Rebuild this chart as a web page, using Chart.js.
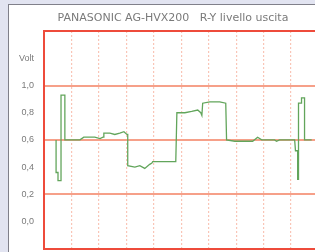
<!DOCTYPE html>
<html>
<head>
<meta charset="utf-8">
<script src="https://cdn.jsdelivr.net/npm/chart.js@4.4.1/dist/chart.umd.min.js"></script>
<style>
  html, body { margin: 0; padding: 0; width: 315px; height: 252px; overflow: hidden; background: #e2e4f1; }
  #panel { position: absolute; left: 8px; top: 4px; width: 400px; height: 300px; background: #fff;
           border-left: 1px solid #80808a; border-top: 1px solid #80808a; }
  #wrap { position: absolute; left: 0; top: 0; width: 346px; height: 264px; }
</style>
</head>
<body>
<div id="panel"></div>
<div id="wrap"><canvas id="c"></canvas></div>
<script>
// titolo e scala
const titleText = "PANASONIC AG-HVX200   R-Y livello uscita";
const yTickValues = [1.2, 1.0, 0.8, 0.6, 0.4, 0.2, 0.0];
const yTickLabels = ["Volt", "1,0", "0,8", "0,6", "0,4", "0,2", "0,0"];
const solidLevels = [1.0, 0.6, 0.2];

// forma d'onda R-Y (x in divisioni, y in volt)
const timeDiv = [0.44, 0.44, 0.51, 0.51, 0.62, 0.62, 0.76, 0.76, 1.31, 1.45, 1.85, 2.04, 2.15, 2.18, 2.40, 2.58, 2.76, 2.91, 3.02, 3.05,
                 3.05, 3.31, 3.49, 3.67, 3.85, 3.93, 3.96, 4.40, 4.76, 4.80, 4.84, 5.13, 5.38, 5.60, 5.71, 5.75, 5.78, 6.04, 6.40, 6.62,
                 6.65, 6.95, 7.24, 7.49, 7.60, 7.78, 7.93, 8.40, 8.47, 8.58, 9.13, 9.16, 9.24, 9.24, 9.27, 9.27, 9.38, 9.38, 9.49, 9.49, 9.75];
const level   = [0.60, 0.36, 0.36, 0.30, 0.30, 0.93, 0.93, 0.60, 0.60, 0.62, 0.62, 0.61, 0.62, 0.65, 0.65, 0.64, 0.65, 0.66, 0.64, 0.64,
                 0.41, 0.40, 0.41, 0.39, 0.42, 0.43, 0.44, 0.44, 0.44, 0.44, 0.80, 0.80, 0.81, 0.82, 0.80, 0.78, 0.87, 0.88, 0.88, 0.87,
                 0.60, 0.59, 0.59, 0.59, 0.59, 0.62, 0.60, 0.60, 0.59, 0.60, 0.60, 0.52, 0.52, 0.31, 0.31, 0.87, 0.87, 0.91, 0.91, 0.60, 0.60];

const near = (a, b) => Math.abs(a - b) < 1e-6;

new Chart(document.getElementById("c"), {
  type: "line",
  data: {
    datasets: [{
      data: timeDiv.map((x, i) => ({ x, y: level[i] })),
      borderColor: "#62a55b",
      borderWidth: 1.3,
      pointRadius: 0,
      tension: 0,
      fill: false
    }]
  },
  options: {
    responsive: true,
    maintainAspectRatio: false,
    animation: false,
    layout: { padding: { left: 0, right: 0, top: 0, bottom: 4 } },
    plugins: {
      legend: { display: false },
      tooltip: { enabled: false },
      title: {
        display: true,
        text: titleText,
        color: "#7a7a7a",
        font: { family: "DejaVu Sans", size: 11, weight: "normal" },
        padding: { top: 12, bottom: 6 }
      }
    },
    scales: {
      x: {
        type: "linear",
        min: 0, max: 11,
        afterFit: s => { s.height = 0; },
        ticks: { stepSize: 1, display: false },
        grid: {
          drawTicks: false,
          color: ctx => (ctx.tick.value > 0 && ctx.tick.value < 10) ? "#f7b3a0" : "rgba(0,0,0,0)",
          lineWidth: 1.2
        },
        border: { display: false, dash: [1.5, 2.5] }
      },
      y: {
        min: -0.2, max: 1.4,
        afterFit: s => { s.width = 44; },
        afterBuildTicks: s => { s.ticks = [-0.2, 0, 0.2, 0.4, 0.6, 0.8, 1.0, 1.2, 1.4].map(v => ({ value: v })); },
        ticks: {
          color: "#7a7a7a",
          font: { family: "Liberation Sans", size: 9 },
          padding: 10,
          callback: v => {
            const i = yTickValues.findIndex(t => near(t, v));
            return i >= 0 ? yTickLabels[i] : "";
          }
        },
        grid: {
          drawTicks: false,
          color: ctx => {
            const v = ctx.tick.value;
            if (near(v, 1.4) || near(v, -0.2)) return "#ee4b3b";
            if (solidLevels.some(l => near(l, v))) return "#f6a089";
            return "rgba(0,0,0,0)";
          },
          lineWidth: 2
        },
        border: { color: "#ee4b3b", width: 2 }
      }
    }
  }
});
</script>
</body>
</html>
